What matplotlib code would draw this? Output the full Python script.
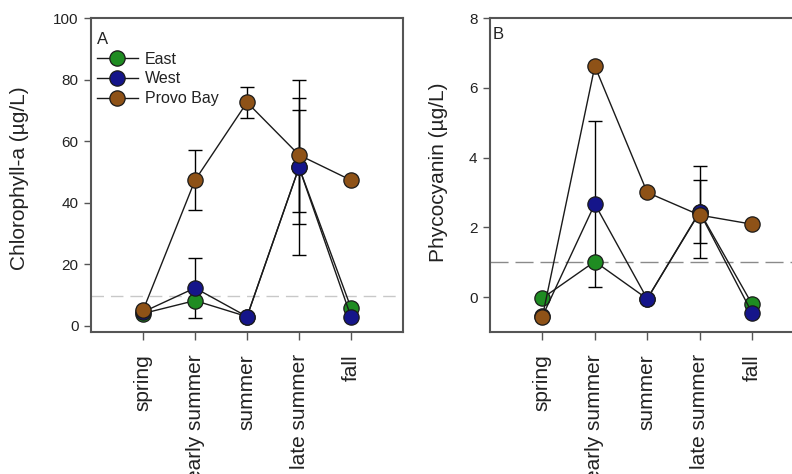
import matplotlib
matplotlib.use("Agg")
import matplotlib.pyplot as plt
from matplotlib.lines import Line2D

plt.rcParams['font.family'] = ['Liberation Sans', 'DejaVu Sans']

seasons = ['spring', 'early summer', 'summer', 'late summer', 'fall']
sites = ['East', 'West', 'Provo Bay']
site_colors = {'East': '#1f8c22', 'West': '#15158a', 'Provo Bay': '#8e5217'}

# chlorophyll-a, ug/L
chl_east = [4.0, 8.2, 3.0, 51.5, 5.8]
chl_west = [4.5, 12.3, 3.0, 51.5, 2.9]
chl_provo = [5.0, 47.3, 72.6, 55.5, 47.3]
chl_east_err = [0, 0, 0, 18.5, 0]
chl_west_err = [0, 9.7, 0, 28.5, 0]
chl_provo_err = [0, 9.7, 5.1, 18.5, 0]

# phycocyanin, ug/L
pc_east = [-0.03, 1.02, -0.05, 2.45, -0.2]
pc_west = [-0.55, 2.67, -0.05, 2.43, -0.45]
pc_provo = [-0.56, 6.62, 3.0, 2.35, 2.09]
pc_east_err = [0, 0, 0, 0.9, 0]
pc_west_err = [0, 2.37, 0, 1.32, 0]
pc_provo_err = [0, 0, 0.1, 0, 0]

chl_threshold = 9.8
pc_threshold = 1.0

text_col = '#222222'
spine_col = '#555555'

fig = plt.figure(figsize=(7.92, 4.74), dpi=100)
axA = fig.add_axes([0.1149, 0.2996, 0.394, 0.6624])
axB = fig.add_axes([0.6187, 0.2996, 0.397, 0.6624])

x = list(range(len(seasons)))


def draw_panel(ax, series, errs, threshold, dash_col, dashes):
    ax.axhline(threshold, color=dash_col, lw=1.0, dashes=dashes, zorder=1)
    for name, vals, err in zip(sites, series, errs):
        yerr = [e if e > 0 else float('nan') for e in err]
        ax.errorbar(x, vals, yerr=yerr, fmt='none', ecolor='black',
                    elinewidth=1.0, capsize=5, capthick=1.0, zorder=2)
    for name, vals in zip(sites, series):
        ax.plot(x, vals, '-', color='#1a1a1a', lw=1.0, marker='o',
                markersize=11, markerfacecolor=site_colors[name],
                markeredgecolor='#1a1a1a', markeredgewidth=0.9, zorder=3)
    ax.set_xlim(-1, 5)
    ax.set_xticks(x)
    ax.set_xticklabels(seasons, rotation=90, fontsize=15, color=text_col)
    ax.tick_params(axis='x', direction='out', length=6, width=1,
                   color=spine_col, pad=10)
    ax.tick_params(axis='y', direction='out', length=5, width=1,
                   color=spine_col, labelsize=11, labelcolor=text_col, pad=4)
    for sp in ax.spines.values():
        sp.set_color(spine_col)
        sp.set_linewidth(1.5)


draw_panel(axA, [chl_east, chl_west, chl_provo],
           [chl_east_err, chl_west_err, chl_provo_err],
           chl_threshold, '#c8c8c8', (9, 5))
axA.set_ylim(-2, 100)
axA.set_yticks([0, 20, 40, 60, 80, 100])
axA.set_ylabel('Chlorophyll-a (µg/L)', fontsize=15, color=text_col)
axA.yaxis.set_label_coords(-0.2, 0.49)
axA.text(0.02, 0.955, 'A', transform=axA.transAxes, ha='left', va='top',
         fontsize=12, color=text_col)

handles = [Line2D([], [], color='#1a1a1a', lw=1.0, marker='o', markersize=11,
                  markerfacecolor=site_colors[s], markeredgecolor='#1a1a1a',
                  markeredgewidth=0.9) for s in sites]
axA.legend(handles, sites, loc='upper left', bbox_to_anchor=(0.018, 0.893),
           frameon=False, fontsize=11.5, handlelength=2.6, handletextpad=0.4,
           labelspacing=0.3, borderaxespad=0, borderpad=0, labelcolor=text_col)

draw_panel(axB, [pc_east, pc_west, pc_provo],
           [pc_east_err, pc_west_err, pc_provo_err],
           pc_threshold, '#8a8a8a', (13, 5))
axB.set_ylim(-1, 8)
axB.set_yticks([0, 2, 4, 6, 8])
axB.set_ylabel('Phycocyanin (µg/L)', fontsize=15, color=text_col)
axB.yaxis.set_label_coords(-0.135, 0.51)
axB.text(0.008, 0.97, 'B', transform=axB.transAxes, ha='left', va='top',
         fontsize=12, color=text_col)

fig.savefig('out.png', dpi=100, facecolor='white')
